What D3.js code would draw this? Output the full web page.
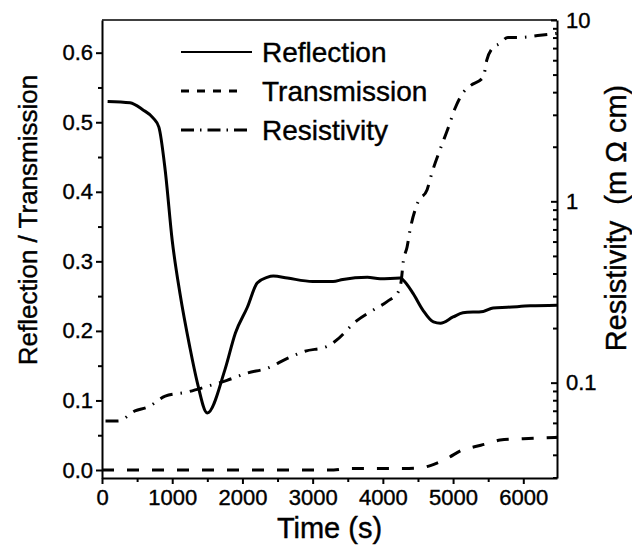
<!DOCTYPE html>
<html>
<head>
<meta charset="utf-8">
<script src="https://cdn.jsdelivr.net/npm/d3@7"></script>
<style>
  body { margin: 0; background: #fff; }
  text { font-family: "Liberation Sans", Arial, sans-serif; fill: #000; stroke: #000; stroke-width: 0.4px; }
</style>
</head>
<body>
<svg id="chart" width="632" height="554"></svg>
<script>
// reflection (left axis)
var reflT = [80, 400, 580, 730, 810, 900, 1000, 1110, 1250, 1350, 1500, 1750, 1900, 2070, 2210, 2350, 2440,
             2640, 3000, 3290, 3430, 3780, 3960, 4250, 4290, 4430, 4570, 4720, 4820, 5000, 5140, 5430, 5570, 5770, 6100, 6480];
var reflV = [0.53, 0.528, 0.518, 0.506, 0.493, 0.431, 0.33, 0.254, 0.177, 0.129, 0.082, 0.144, 0.197, 0.234, 0.269, 0.277, 0.279,
             0.276, 0.271, 0.271, 0.274, 0.277, 0.275, 0.276, 0.273, 0.254, 0.23, 0.213, 0.211, 0.22, 0.226, 0.228, 0.233, 0.234, 0.236, 0.237];

// transmission (left axis)
var transT = [0, 3300, 3500, 4300, 4530, 4770, 4920, 5140, 5290, 5530, 5670, 6000, 6480];
var transV = [0, 0, 0.002, 0.002, 0.003, 0.01, 0.017, 0.029, 0.033, 0.039, 0.043, 0.045, 0.047];

// resistivity (right axis, m ohm cm)
var resT = [50, 230, 470, 655, 900, 1210, 1510, 1780, 2070, 2350, 2640, 2890, 3200, 3320, 3630, 3850, 4060, 4220,
            4260, 4290, 4345, 4390, 4500, 4630, 4700, 4815, 4930, 5030, 5140, 5240, 5430, 5480, 5560, 5670, 5780, 5950, 6240, 6480];
var resV = [0.0615, 0.0615, 0.0698, 0.0734, 0.0843, 0.0887, 0.0957, 0.103, 0.113, 0.12, 0.136, 0.149, 0.158, 0.169, 0.22, 0.25, 0.28, 0.317,
            0.36, 0.463, 0.56, 0.703, 0.99, 1.16, 1.44, 1.93, 2.54, 3.27, 3.96, 4.32, 4.84, 6.0, 6.98, 7.43, 8.02, 8.02, 8.23, 8.44];

var xTicks = [0, 1000, 2000, 3000, 4000, 5000, 6000];
var xMinor = [500, 1500, 2500, 3500, 4500, 5500];
var yTicks = [0, 0.1, 0.2, 0.3, 0.4, 0.5, 0.6];
var yMinor = [0.05, 0.15, 0.25, 0.35, 0.45, 0.55];
var rTicks = [0.1, 1, 10];
var rMinor = [0.03, 0.04, 0.05, 0.06, 0.07, 0.08, 0.09, 0.2, 0.3, 0.4, 0.5, 0.6, 0.7, 0.8, 0.9, 2, 3, 4, 5, 6, 7, 8, 9];

var legendNames = ["Reflection", "Transmission", "Resistivity"];

var pLeft = 102, pRight = 557, pTop = 20, pBottom = 478;

var svg = d3.select("#chart");

var x = d3.scaleLinear().domain([0, 6480]).range([pLeft, pRight]);
var yL = d3.scaleLinear().domain([-0.0115, 0.647]).range([pBottom, pTop]);
var yR = d3.scaleLog().domain([0.0298, 10]).range([pBottom, pTop]);

// minor ticks first
svg.append("g")
  .attr("transform", "translate(0," + pBottom + ")")
  .call(d3.axisBottom(x).tickValues(xMinor).tickSize(4).tickFormat(""))
  .call(g => g.select(".domain").remove());
svg.append("g")
  .attr("transform", "translate(" + pLeft + ",0)")
  .call(d3.axisLeft(yL).tickValues(yMinor).tickSize(4).tickFormat(""))
  .call(g => g.select(".domain").remove());
svg.append("g")
  .attr("transform", "translate(" + pRight + ",0)")
  .call(d3.axisRight(yR).tickValues(rMinor).tickSize(-4).tickFormat(""))
  .call(g => g.select(".domain").remove());

svg.append("g")
  .attr("transform", "translate(0," + pBottom + ")")
  .call(d3.axisBottom(x).tickValues(xTicks).tickSize(6).tickSizeOuter(0).tickPadding(5).tickFormat(d3.format("d")));

svg.append("g")
  .attr("transform", "translate(" + pLeft + ",0)")
  .call(d3.axisLeft(yL).tickValues(yTicks).tickSize(6).tickSizeOuter(0).tickPadding(3).tickFormat(d3.format(".1f")));

svg.append("g")
  .attr("transform", "translate(" + pRight + ",0)")
  .call(d3.axisRight(yR).tickValues(rTicks).tickSize(-6).tickSizeOuter(0).tickPadding(9).tickFormat(d => d3.format("~g")(d)));

svg.selectAll(".tick line").attr("stroke", "#000").attr("stroke-width", 2);
svg.selectAll(".domain").attr("stroke", "#000").attr("stroke-width", 2);
svg.selectAll(".tick text").attr("font-size", "22px").attr("fill", "#000")
  .attr("font-family", "Liberation Sans, Arial, sans-serif");

// top frame
svg.append("line")
  .attr("x1", pLeft).attr("x2", pRight)
  .attr("y1", pTop).attr("y2", pTop)
  .attr("stroke", "#000").attr("stroke-width", 1.5);

// curves
var lineL = d3.line().curve(d3.curveMonotoneX)
  .x(d => x(d[0])).y(d => yL(d[1]));
var lineR = d3.line().curve(d3.curveMonotoneX)
  .x(d => x(d[0])).y(d => yR(d[1]));

svg.append("path")
  .datum(d3.zip(reflT, reflV))
  .attr("d", lineL)
  .attr("fill", "none").attr("stroke", "#000").attr("stroke-width", 3);

svg.append("path")
  .datum(d3.zip(transT, transV))
  .attr("d", lineL)
  .attr("fill", "none").attr("stroke", "#000").attr("stroke-width", 3)
  .attr("stroke-dasharray", "12,13");

svg.append("path")
  .datum(d3.zip(resT, resV))
  .attr("d", lineR)
  .attr("fill", "none").attr("stroke", "#000").attr("stroke-width", 3)
  .attr("stroke-dasharray", "13,8,1.5,8");

// legend
var dashes = [null, "8,8", "13,6,1.5,6"];
var legendEnd = [252, 240, 252];
legendNames.forEach(function(name, i) {
  var ly = 52 + i * 39;
  svg.append("line")
    .attr("x1", 181).attr("x2", legendEnd[i])
    .attr("y1", ly).attr("y2", ly)
    .attr("stroke", "#000").attr("stroke-width", i == 0 ? 2 : 3)
    .attr("stroke-dasharray", dashes[i]);
  svg.append("text")
    .attr("x", 262)
    .attr("y", ly + 10)
    .text(name)
    .attr("font-size", "28px");
});

// axis titles
svg.append("text")
  .attr("x", (pLeft + pRight) / 2)
  .attr("y", 538)
  .attr("text-anchor", "middle")
  .attr("font-size", "29px")
  .text("Time (s)");

svg.append("text")
  .attr("transform", "translate(37," + 220 + ") rotate(-90)")
  .attr("text-anchor", "middle")
  .attr("font-size", "26px")
  .text("Reflection / Transmission");

svg.append("text")
  .attr("transform", "translate(626," + 218 + ") rotate(-90)")
  .attr("text-anchor", "middle")
  .attr("font-size", "29px")
  .style("white-space", "pre")
  .text("Resistivity  (m \u03A9 cm)");
</script>
</body>
</html>
